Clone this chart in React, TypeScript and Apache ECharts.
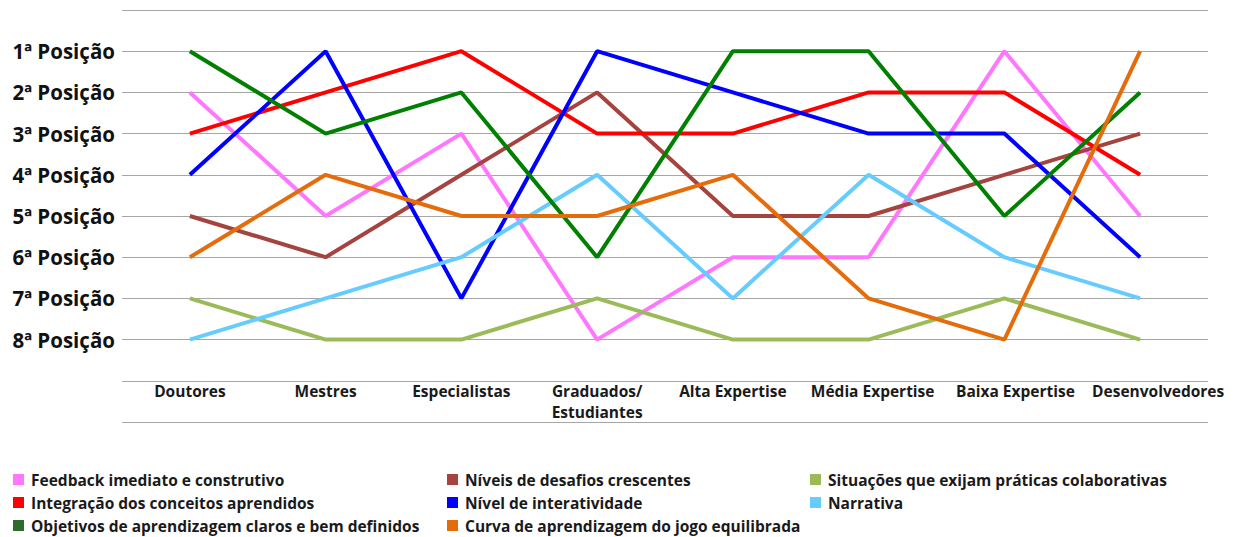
import React, { useEffect, useRef } from "react";
import * as echarts from "echarts";

const categories = [
  "Doutores",
  "Mestres",
  "Especialistas",
  "Graduados/\nEstudiantes",
  "Alta Expertise",
  "Média Expertise",
  "Baixa Expertise",
  "Desenvolvedores",
];

const seriesNames = [
  "Feedback imediato e construtivo",
  "Níveis de desafios crescentes",
  "Situações que exijam práticas colaborativas",
  "Integração dos conceitos aprendidos",
  "Nível de interatividade",
  "Narrativa",
  "Objetivos de aprendizagem claros e bem definidos",
  "Curva de aprendizagem do jogo equilibrada",
];

const feedback = [2, 5, 3, 8, 6, 6, 1, 5];
const desafios = [5, 6, 4, 2, 5, 5, 4, 3];
const situacoes = [7, 8, 8, 7, 8, 8, 7, 8];
const integracao = [3, 2, 1, 3, 3, 2, 2, 4];
const interatividade = [4, 1, 7, 1, 2, 3, 3, 6];
const narrativa = [8, 7, 6, 4, 7, 4, 6, 7];
const objetivos = [1, 3, 2, 6, 1, 1, 5, 2];
const curva = [6, 4, 5, 5, 4, 7, 8, 1];

const seriesValues = [feedback, desafios, situacoes, integracao, interatividade, narrativa, objetivos, curva];
const lineColors = ["#FF77FF", "#A5433F", "#9BBB59", "#FF0000", "#0000FF", "#66CCFF", "#008000", "#E46C0A"];
const legendColors = ["#FF77FF", "#A5433F", "#9BBB59", "#FF0000", "#0000FF", "#66CCFF", "#2E6B2E", "#E46C0A"];

const FONT = "'Open Sans', sans-serif";

export default function App() {
  const ref = useRef<HTMLDivElement>(null);
  useEffect(() => {
    if (!ref.current) return;
    const chart = echarts.init(ref.current, null, { renderer: "svg" });
    const legendText = {
      fontFamily: FONT,
      fontWeight: "bold" as const,
      fontSize: 15.5,
      lineHeight: 17,
      color: "#1a1a1a",
      padding: [0, 0, 0, 2],
    };
    const mkLegend = (left: number, names: string[]) => ({
      orient: "vertical" as const,
      left,
      top: 471,
      padding: 0,
      itemWidth: 11,
      itemHeight: 11,
      itemGap: 6,
      icon: "rect",
      data: names,
      textStyle: legendText,
      selectedMode: false,
    });
    const labelBase = {
      fontFamily: FONT,
      fontWeight: "bold" as const,
      fontSize: 15.5,
      lineHeight: 21,
      color: "#1a1a1a",
    };
    chart.setOption({
      animation: false,
      grid: { left: 122, right: 26, top: 10, bottom: 115, containLabel: false },
      xAxis: {
        type: "category",
        data: categories,
        boundaryGap: true,
        axisLine: { show: false },
        axisTick: { show: false },
        axisLabel: {
          margin: -42,
          interval: 0,
          ...labelBase,
          formatter: (v: string, i: number) => {
            if (i === 5) return `{s1|${v}}`;
            if (i === 6) return `{s2|${v}}`;
            if (i === 7) return `{s3|${v}}`;
            return v;
          },
          rich: {
            s1: { ...labelBase, padding: [0, 0, 0, 8] },
            s2: { ...labelBase, padding: [0, 0, 0, 22] },
            s3: { ...labelBase, padding: [0, 0, 0, 36] },
          },
        },
      },
      yAxis: {
        type: "value",
        inverse: true,
        min: 0,
        max: 10,
        interval: 1,
        axisLine: { show: false },
        axisTick: { show: false },
        splitLine: { lineStyle: { color: "#a6a6a6", width: 1 } },
        axisLabel: {
          margin: 7,
          fontFamily: FONT,
          fontWeight: "bold",
          fontSize: 20.5,
          color: "#111",
          formatter: (v: number) => (v >= 1 && v <= 8 ? `${v}ª Posição` : ""),
        },
      },
      legend: [
        mkLegend(13, [seriesNames[0], seriesNames[3], seriesNames[6]]),
        mkLegend(447, [seriesNames[1], seriesNames[4], seriesNames[7]]),
        mkLegend(810, [seriesNames[2], seriesNames[5]]),
      ],
      series: seriesNames.map((name, i) => ({
        name,
        type: "line",
        data: seriesValues[i],
        symbol: "none",
        lineStyle: { color: lineColors[i], width: 4 },
        itemStyle: { color: legendColors[i] },
        emphasis: { disabled: true },
      })),
    });
    return () => chart.dispose();
  }, []);
  return (
    <div
      ref={ref}
      style={{ position: "absolute", left: 0, top: 0, width: 1234, height: 537, background: "#fff" }}
    />
  );
}
